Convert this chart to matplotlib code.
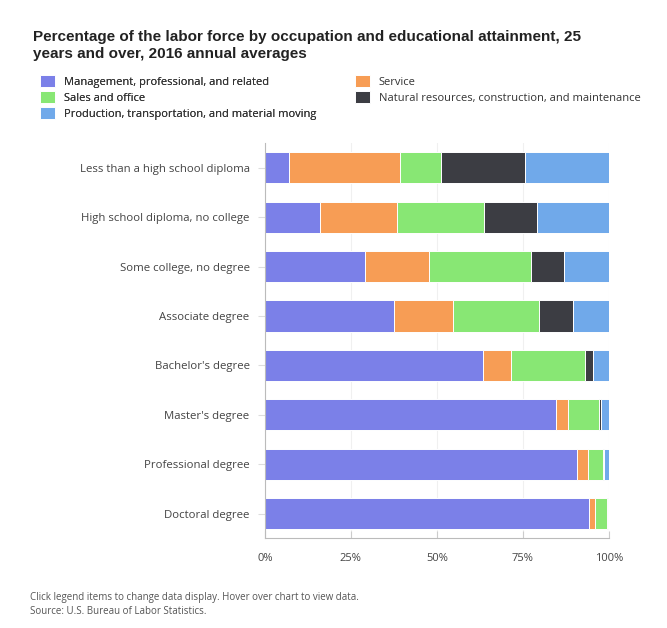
import matplotlib.pyplot as plt
import numpy as np

categories = ["Less than a high school diploma", "High school diploma, no college",
              "Some college, no degree", "Associate degree", "Bachelor's degree",
              "Master's degree", "Professional degree", "Doctoral degree"]

series_names = ["Management, professional, and related", "Service", "Sales and office",
                "Natural resources, construction, and maintenance",
                "Production, transportation, and material moving"]

management = [6.9, 16.0, 29.0, 37.6, 63.3, 84.6, 90.8, 94.1]
service = [32.5, 22.5, 18.7, 17.0, 8.3, 3.6, 3.2, 1.8]
sales = [11.8, 25.2, 29.6, 25.0, 21.5, 9.0, 4.2, 3.6]
natural = [24.5, 15.4, 9.5, 9.9, 2.4, 0.6, 0.5, 0.2]
production = [24.3, 20.9, 13.2, 10.5, 4.5, 2.2, 1.3, 0.3]

colors = ["#7b80e8", "#f79d55", "#88e774", "#3c3d43", "#70a9ea"]

fig = plt.figure(figsize=(6.67, 6.28), dpi=100)
ax = fig.add_axes([0.397, 0.143, 0.516, 0.629])

y = np.arange(len(categories))
left = np.zeros(len(categories))
for vals, c, name in zip([management, service, sales, natural, production], colors, series_names):
    ax.barh(y, vals, left=left, height=0.63, color=c, edgecolor='white', linewidth=0.7, label=name)
    left += np.array(vals)

ax.set_ylim(len(categories) - 0.5, -0.5)
ax.set_xlim(0, 100)
ax.set_yticks(y)
ax.set_yticklabels(categories, fontsize=8.2, color='#444444', family='Open Sans')
ax.set_xticks([0, 25, 50, 75, 100])
ax.set_xticklabels(['0%', '25%', '50%', '75%', '100%'], fontsize=8, color='#444444', family='Open Sans')
ax.tick_params(axis='y', length=5, color='#dddddd', pad=6)
ax.tick_params(axis='x', length=5, color='#cccccc', direction='in', pad=11)
for s in ['top', 'right']:
    ax.spines[s].set_visible(False)
ax.spines['left'].set_color('#bbbbbb')
ax.spines['bottom'].set_color('#bbbbbb')
ax.xaxis.grid(True, color='#f0f0f0', linewidth=0.8)
ax.set_axisbelow(True)

fig.text(0.049, 0.953, "Percentage of the labor force by occupation and educational attainment, 25\nyears and over, 2016 annual averages",
         fontsize=11, fontweight='bold', family='Liberation Sans', va='top', linespacing=1.3, color='#222222')

# legend in two columns
handles, labels = ax.get_legend_handles_labels()
leg_kw = dict(loc='upper left', frameon=False, prop={'family': 'Open Sans', 'size': 8},
              handlelength=1.3, handleheight=1.3, labelspacing=0.3, handletextpad=0.8,
              labelcolor='#333333', borderaxespad=0)
leg1 = fig.legend([handles[0], handles[2], handles[4]], [labels[0], labels[2], labels[4]],
                  bbox_to_anchor=(0.054, 0.888), **leg_kw)
fig.legend([handles[1], handles[3]], [labels[1], labels[3]],
           bbox_to_anchor=(0.526, 0.888), **leg_kw)
fig.add_artist(leg1)

fig.text(0.045, 0.057, "Click legend items to change data display. Hover over chart to view data.\nSource: U.S. Bureau of Labor Statistics.",
         fontsize=7, family='Open Sans', color='#555555', va='top', linespacing=1.3)

plt.savefig('out.png', dpi=100)
